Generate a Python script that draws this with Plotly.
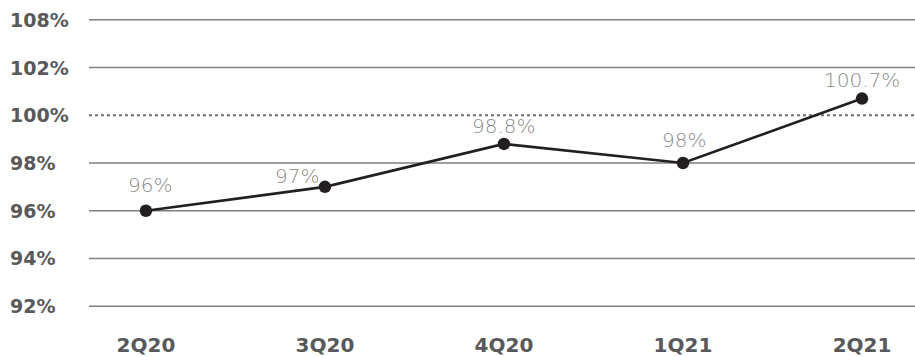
import plotly.graph_objects as go

# Quarterly ratio series
quarters = ["2Q20", "3Q20", "4Q20", "1Q21", "2Q21"]
ratios = [96.0, 97.0, 98.8, 98.0, 100.7]
point_labels = ["96%", "97%", "98.8%", "98%", "100.7%"]

# Horizontal reference levels and their axis labels
tick_values = [92, 94, 96, 98, 100, 102, 104]
tick_labels = ["92%", "94%", "96%", "98%", "100%", "102%", "108%"]
dotted_level = 100

# Label nudges (pixels) so value labels sit clear of the line
label_dx = [4, -28, 0, 1, 0]
label_dy = [26, 11, 18, 23, 19]

x_pos = list(range(len(quarters)))

BOLD_Y = dict(family="DejaVu Sans", size=19, color="#58595b", weight=700)
BOLD_X = dict(family="DejaVu Sans", size=20, color="#58595b", weight=700)
LIGHT = dict(family="DejaVu Sans", size=20, color="#8a8a8a", weight=200)

fig = go.Figure()

fig.add_trace(go.Scatter(
    x=x_pos,
    y=ratios,
    mode="lines+markers",
    line=dict(color="#231f20", width=2.6),
    marker=dict(color="#231f20", size=12.5),
    hoverinfo="skip",
    showlegend=False,
))

shapes = []
for v in tick_values:
    shapes.append(dict(
        type="line", xref="paper", yref="y",
        x0=0, x1=1, y0=v, y1=v,
        line=dict(color="#7f7f7f" if v != dotted_level else "#6d6e71",
                  width=1.4 if v != dotted_level else 1.8,
                  dash="solid" if v != dotted_level else "dot"),
        layer="below",
    ))

annotations = []
for v, t in zip(tick_values, tick_labels):
    annotations.append(dict(
        xref="paper", yref="y", x=-81 / 826, y=v,
        text=t, showarrow=False, xanchor="left", yanchor="middle",
        font=BOLD_Y,
    ))

for xi, yi, t, dx, dy in zip(x_pos, ratios, point_labels, label_dx, label_dy):
    annotations.append(dict(
        x=xi, y=yi, text=t, showarrow=False,
        xanchor="center", yanchor="middle",
        xshift=dx, yshift=dy,
        font=LIGHT,
    ))

fig.update_layout(
    width=915, height=357,
    margin=dict(l=89, r=0, t=15, b=36),
    paper_bgcolor="white", plot_bgcolor="white",
    shapes=shapes,
    annotations=annotations,
    xaxis=dict(
        range=[-0.318, 4.296],
        tickmode="array", tickvals=x_pos, ticktext=quarters,
        showgrid=False, zeroline=False, showline=False,
        ticks="outside", ticklen=16, tickcolor="rgba(0,0,0,0)",
        tickfont=BOLD_X,
    ),
    yaxis=dict(
        range=[91.8, 104.2],
        showgrid=False, zeroline=False, showline=False,
        showticklabels=False,
    ),
)

fig.write_html("out.html")
